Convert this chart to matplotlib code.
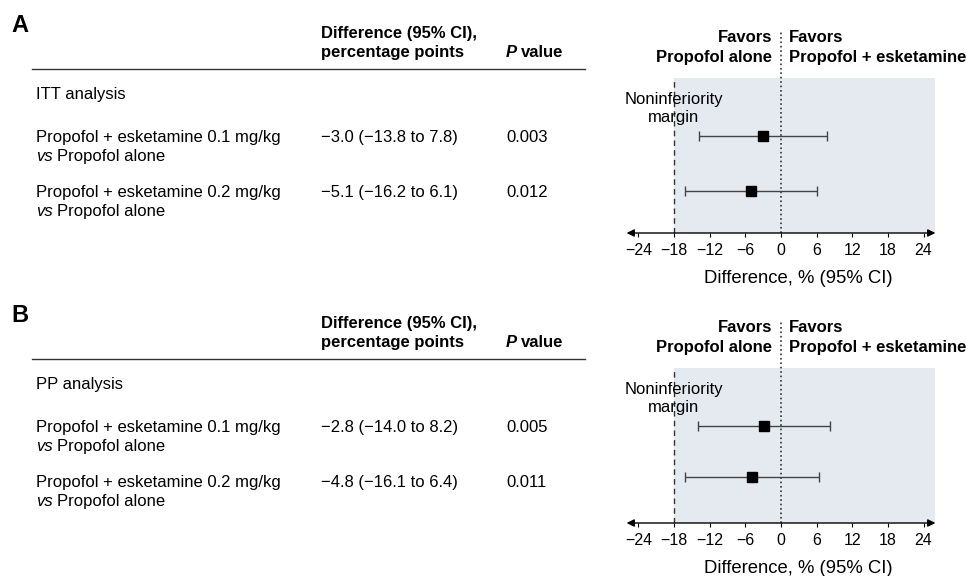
import matplotlib.pyplot as plt
from matplotlib.lines import Line2D

plt.rcParams['font.family'] = ['Liberation Sans', 'DejaVu Sans']

W, H = 966, 576

# data
comparisons = ["Propofol + esketamine 0.1 mg/kg", "Propofol + esketamine 0.2 mg/kg"]
reference_arm = "Propofol alone"

itt_diff = [-3.0, -5.1]
itt_low = [-13.8, -16.2]
itt_high = [7.8, 6.1]
itt_p = ["0.003", "0.012"]

pp_diff = [-2.8, -4.8]
pp_low = [-14.0, -16.1]
pp_high = [8.2, 6.4]
pp_p = ["0.005", "0.011"]

margin = -18
xticks = [-24, -18, -12, -6, 0, 6, 12, 18, 24]

SHADE = '#e4eaef'
FS = 12


def fmt(v):
    return f"{v:.1f}".replace("-", "\u2212")


def px(x, y):
    # pixel position -> figure fraction
    return x / W, 1 - y / H


def draw_panel(fig, top, letter, analysis, diff, low, high, pvals, row_gap):
    # left: table
    fig.text(*px(11, top + 32), letter, fontsize=17, fontweight='bold', va='baseline')
    fig.text(*px(321, top + 38), "Difference (95% CI),", fontsize=FS, fontweight='bold', va='baseline')
    fig.text(*px(321, top + 57), "percentage points", fontsize=FS, fontweight='bold', va='baseline')
    fig.text(*px(506, top + 57), "P", fontsize=FS, fontweight='bold', fontstyle='italic', va='baseline')
    fig.text(*px(521, top + 57), "value", fontsize=FS, fontweight='bold', va='baseline')
    fig.add_artist(Line2D([32 / W, 585 / W], [1 - (top + 69) / H] * 2, color='#333333', lw=1))
    fig.text(*px(36, top + 99), analysis, fontsize=FS, va='baseline')

    for i, name in enumerate(comparisons):
        base = top + 142 + i * 55
        fig.text(*px(36, base), name, fontsize=FS, va='baseline')
        fig.text(*px(36, base + 19), "vs", fontsize=FS, fontstyle='italic', va='baseline')
        fig.text(*px(57, base + 19), reference_arm, fontsize=FS, va='baseline')
        ci = f"{fmt(diff[i])} ({fmt(low[i])} to {fmt(high[i])})"
        fig.text(*px(321, base), ci, fontsize=FS, va='baseline')
        fig.text(*px(506, base), pvals[i], fontsize=FS, va='baseline')

    # right: forest plot
    axis_y = top + 233
    ax = fig.add_axes([626.6 / W, 1 - axis_y / H, 308.8 / W, 155 / H])
    ax.set_xlim(-26, 26)
    ax.set_ylim(0, 3)
    ax.axvspan(margin, 26, color=SHADE, lw=0, zorder=0)
    ax.axvline(margin, color='#333333', ls=(0, (4, 3)), lw=1, zorder=1)
    ax.axvline(0, ymin=0, ymax=203 / 155, color='#333333', ls=':', lw=1.2, clip_on=False, zorder=1)

    ypos = [1.88, 1.88 - row_gap]
    xerr = [[d - l for d, l in zip(diff, low)], [h - d for d, h in zip(diff, high)]]
    ax.errorbar(diff, ypos, xerr=xerr, fmt='s', color='black', ecolor='#444444',
                elinewidth=1, capsize=3.5, capthick=1, markersize=7, zorder=3)

    for s in ax.spines.values():
        s.set_visible(False)
    ax.annotate('', xy=(26, 0), xytext=(-26, 0),
                arrowprops=dict(arrowstyle='<|-|>', color='black', lw=1,
                                shrinkA=0, shrinkB=0, mutation_scale=11),
                annotation_clip=False)
    ax.set_yticks([])
    ax.set_xticks(xticks)
    ax.tick_params(axis='x', length=3, width=0.8, labelsize=11.5, pad=4)
    fig.text(*px(798.5, top + 283), "Difference, % (95% CI)", fontsize=13.3, ha='center', va='baseline')

    fig.text(*px(772, top + 42), "Favors", fontsize=FS, fontweight='bold', ha='right', va='baseline')
    fig.text(*px(772, top + 62), "Propofol alone", fontsize=FS, fontweight='bold', ha='right', va='baseline')
    fig.text(*px(789, top + 42), "Favors", fontsize=FS, fontweight='bold', ha='left', va='baseline')
    fig.text(*px(789, top + 62), "Propofol + esketamine", fontsize=FS, fontweight='bold', ha='left', va='baseline')
    fig.text(*px(673.5, top + 104), "Noninferiority", fontsize=FS, ha='center', va='baseline')
    fig.text(*px(673.5, top + 122), "margin", fontsize=FS, ha='center', va='baseline')


fig = plt.figure(figsize=(W / 100, H / 100), dpi=100)
draw_panel(fig, 0, "A", "ITT analysis", itt_diff, itt_low, itt_high, itt_p, 1.07)
draw_panel(fig, 290, "B", "PP analysis", pp_diff, pp_low, pp_high, pp_p, 0.99)

fig.savefig("out.png", dpi=100)
